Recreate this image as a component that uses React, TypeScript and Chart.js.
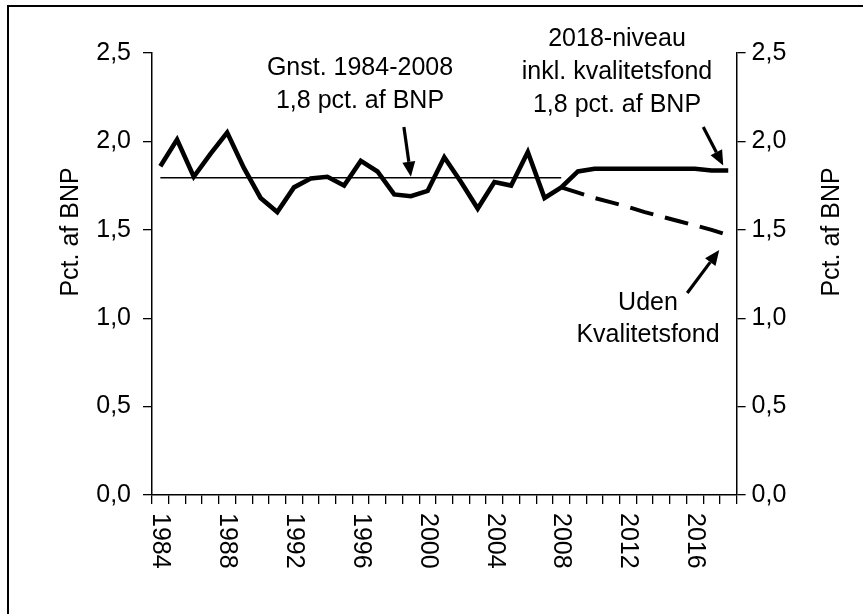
import React, { useEffect, useRef } from "react";
import { Chart, registerables } from "chart.js";

Chart.register(...registerables);

const years = [
  "1984", "1985", "1986", "1987", "1988", "1989", "1990", "1991", "1992", "1993",
  "1994", "1995", "1996", "1997", "1998", "1999", "2000", "2001", "2002", "2003",
  "2004", "2005", "2006", "2007", "2008", "2009", "2010", "2011", "2012", "2013",
  "2014", "2015", "2016", "2017", "2018",
];

const withFund = [
  1.86, 2.01, 1.8, 1.93, 2.05, 1.85, 1.68, 1.6, 1.74, 1.79,
  1.8, 1.75, 1.89, 1.83, 1.7, 1.69, 1.72, 1.91, 1.77, 1.62,
  1.77, 1.75, 1.94, 1.68, 1.74, 1.83, 1.845, 1.845, 1.845, 1.845,
  1.845, 1.845, 1.845, 1.835, 1.835,
];

const withoutFund = [
  null, null, null, null, null, null, null, null, null, null,
  null, null, null, null, null, null, null, null, null, null,
  null, null, null, null, 1.74, 1.71, 1.68, 1.655, 1.63, 1.6,
  1.575, 1.55, 1.525, 1.5, 1.47,
];

const average8408 = [
  1.795, 1.795, 1.795, 1.795, 1.795, 1.795, 1.795, 1.795, 1.795, 1.795,
  1.795, 1.795, 1.795, 1.795, 1.795, 1.795, 1.795, 1.795, 1.795, 1.795,
  1.795, 1.795, 1.795, 1.795, 1.795, null, null, null, null, null,
  null, null, null, null, null,
];

const yMin = 0;
const yMax = 2.5;
const yStep = 0.5;
const xLabelEvery = 4;

const axisTitle = "Pct. af BNP";
const noteAverage = ["Gnst. 1984-2008", "1,8 pct. af BNP"];
const noteLevel = ["2018-niveau", "inkl. kvalitetsfond", "1,8 pct. af BNP"];
const noteWithout = ["Uden", "Kvalitetsfond"];

const FONT = "'Liberation Sans', Arial, sans-serif";
const FS = 25;

function arrow(ctx: CanvasRenderingContext2D, x1: number, y1: number, x2: number, y2: number) {
  const ang = Math.atan2(y2 - y1, x2 - x1);
  const head = 15;
  const half = 6.5;
  const bx = x2 - head * Math.cos(ang);
  const by = y2 - head * Math.sin(ang);
  ctx.save();
  ctx.strokeStyle = "#000";
  ctx.fillStyle = "#000";
  ctx.lineWidth = 3.2;
  ctx.lineCap = "butt";
  ctx.beginPath();
  ctx.moveTo(x1, y1);
  ctx.lineTo(bx, by);
  ctx.stroke();
  ctx.beginPath();
  ctx.moveTo(x2, y2);
  ctx.lineTo(bx + half * Math.sin(ang), by - half * Math.cos(ang));
  ctx.lineTo(bx - half * Math.sin(ang), by + half * Math.cos(ang));
  ctx.closePath();
  ctx.fill();
  ctx.restore();
}

const decorPlugin = {
  id: "decor",
  beforeDraw(chart: any) {
    const ctx = chart.ctx as CanvasRenderingContext2D;
    ctx.save();
    ctx.fillStyle = "#fff";
    ctx.fillRect(0, 0, chart.width, chart.height);
    ctx.strokeStyle = "#000";
    ctx.lineWidth = 2;
    ctx.beginPath();
    ctx.moveTo(8, chart.height);
    ctx.lineTo(8, 6);
    ctx.lineTo(chart.width, 6);
    ctx.stroke();
    ctx.restore();
  },
  afterDraw(chart: any) {
    const ctx = chart.ctx as CanvasRenderingContext2D;
    const xs = chart.scales.x;
    const ys = chart.scales.y;
    const area = chart.chartArea;
    ctx.save();
    ctx.fillStyle = "#000";
    ctx.font = `${FS}px ${FONT}`;

    // rotated year labels (reading downwards)
    years.forEach((yr, i) => {
      if (Number(yr) % xLabelEvery !== 0) return;
      const x = xs.getPixelForValue(i);
      ctx.save();
      ctx.translate(x, area.bottom + 18);
      ctx.rotate(Math.PI / 2);
      ctx.textAlign = "left";
      ctx.textBaseline = "middle";
      ctx.fillText(yr, 0, 0);
      ctx.restore();
    });

    // axis titles
    const titleY = 232;
    [71, 832].forEach((tx) => {
      ctx.save();
      ctx.translate(tx, titleY);
      ctx.rotate(-Math.PI / 2);
      ctx.textAlign = "center";
      ctx.textBaseline = "middle";
      ctx.fillText(axisTitle, 0, 0);
      ctx.restore();
    });

    // notes
    ctx.textAlign = "center";
    ctx.textBaseline = "alphabetic";
    noteAverage.forEach((t, k) => ctx.fillText(t, 360, 75 + k * 33));
    noteLevel.forEach((t, k) => ctx.fillText(t, 617, 46 + k * 33));
    noteWithout.forEach((t, k) => ctx.fillText(t, 648, 310 + k * 32));

    // arrows anchored to data
    const iAvg = years.indexOf("1999");
    const ax = xs.getPixelForValue(iAvg);
    const ay = ys.getPixelForValue(average8408[0] as number);
    arrow(ctx, ax - 7, 127, ax, ay - 1);

    const iLast = years.length - 1;
    const lx = xs.getPixelForValue(iLast);
    const ly = ys.getPixelForValue(withFund[iLast]);
    arrow(ctx, lx - 25, 127, lx - 5, ly - 5);

    const wy = ys.getPixelForValue(withoutFund[iLast] as number);
    arrow(ctx, lx - 41, 293, lx - 9, wy + 15);

    ctx.restore();
  },
};

const tickFmt = (v: any) => Number(v).toFixed(1).replace(".", ",");

export default function App() {
  const ref = useRef<HTMLCanvasElement | null>(null);
  useEffect(() => {
    if (!ref.current) return;
    const yAxisBase = (pos: "left" | "right", w: number) => ({
      type: "linear" as const,
      position: pos,
      min: yMin,
      max: yMax,
      afterFit: (s: any) => {
        s.width = w;
      },
      ticks: {
        stepSize: yStep,
        color: "#000",
        font: { family: FONT, size: FS },
        padding: pos === "left" ? 12 : 6,
        callback: tickFmt,
      },
      grid: {
        drawOnChartArea: false,
        drawTicks: true,
        tickLength: 9,
        color: "#000",
        lineWidth: 1.3,
      },
      border: { display: true, color: "#000", width: 1.5 },
    });

    const chart = new Chart(ref.current, {
      type: "line",
      data: {
        labels: years,
        datasets: [
          {
            label: "Inkl. kvalitetsfond",
            data: withFund,
            borderColor: "#000",
            borderWidth: 4.6,
            pointRadius: 0,
            tension: 0,
            borderJoinStyle: "miter",
            order: 0,
            yAxisID: "y",
          },
          {
            label: "Uden kvalitetsfond",
            data: withoutFund,
            borderColor: "#000",
            borderWidth: 4,
            borderDash: [24, 12],
            pointRadius: 0,
            tension: 0,
            order: 1,
            yAxisID: "y",
          },
          {
            label: "Gnst. 1984-2008",
            data: average8408,
            borderColor: "#000",
            borderWidth: 1.5,
            pointRadius: 0,
            tension: 0,
            order: 2,
            yAxisID: "y",
          },
        ],
      },
      options: {
        responsive: false,
        animation: false,
        devicePixelRatio: 1,
        layout: { padding: { top: 53, left: 0, right: 0, bottom: 0 } },
        plugins: {
          legend: { display: false },
          tooltip: { enabled: false },
          title: { display: false },
        },
        scales: {
          x: {
            type: "category",
            offset: true,
            afterFit: (s: any) => {
              s.height = 119;
            },
            ticks: { display: false, autoSkip: false },
            grid: {
              offset: true,
              drawOnChartArea: false,
              drawTicks: true,
              tickLength: 9,
              color: "#000",
              lineWidth: 1.3,
            },
            border: { display: true, color: "#000", width: 1.5 },
          },
          y: yAxisBase("left", 152),
          y2: yAxisBase("right", 126.4),
        },
      },
      plugins: [decorPlugin],
    } as any);
    return () => chart.destroy();
  }, []);

  return (
    <div style={{ position: "fixed", left: 0, top: 0, width: 863, height: 614, background: "#fff" }}>
      <canvas ref={ref} width={863} height={614} style={{ display: "block" }} />
    </div>
  );
}
